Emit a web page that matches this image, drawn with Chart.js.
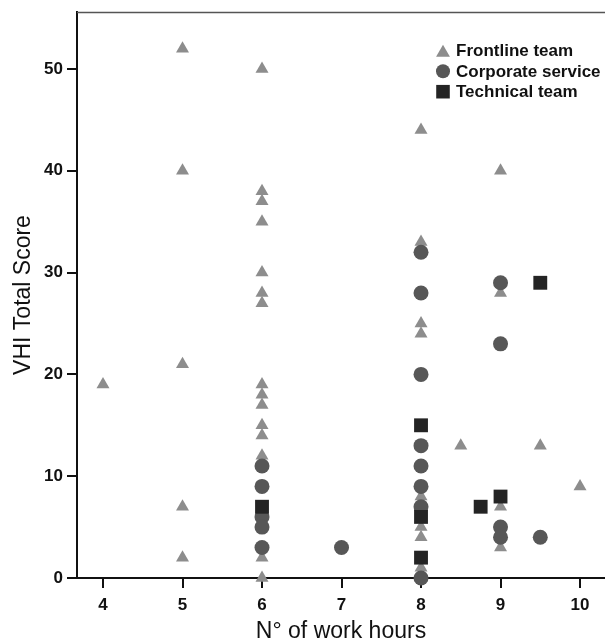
<!DOCTYPE html>
<html><head><meta charset="utf-8">
<script src="https://cdn.jsdelivr.net/npm/chart.js@4"></script>
<style>html,body{margin:0;padding:0;background:#fff;overflow:hidden}canvas{display:block}</style>
</head><body>
<canvas id="c" width="605" height="642"></canvas>
<script>
// ---- data ----
const seriesNames = ['Frontline team', 'Corporate service', 'Technical team'];

const frontlineHours  = [4, 5,5,5,5,5, 6,6,6,6,6,6,6,6,6,6,6,6,6,6,6, 8,8,8,8,8,8,8,8,8, 8.5, 9,9,9,9, 9.5, 10];
const frontlineScores = [19, 52,40,21,7,2, 50,38,37,35,30,28,27,19,18,17,15,14,12,2,0, 44,33,25,24,8,5,4,1,0, 13, 40,28,7,3, 13, 9];

const corporateHours  = [6,6,6,6,6, 7, 8,8,8,8,8,8,8,8, 9,9,9,9, 9.5];
const corporateScores = [11,9,6,5,3, 3, 32,28,20,13,11,9,7,0, 29,23,5,4, 4];

const technicalHours  = [6, 8,8,8, 8.75, 9, 9.5];
const technicalScores = [7, 15,6,2, 7, 8, 29];

const xTicks = [4,5,6,7,8,9,10];
const yTicks = [0,10,20,30,40,50];

const xTitle = 'N° of work hours';
const yTitle = 'VHI Total Score';

// ---- build ----
const pts = (h, s) => h.map((v, i) => ({x: v, y: s[i]}));
const FONT = '"Liberation Sans", Arial, sans-serif';

const styles = [
  {color: '#8d8d8d', pointStyle: 'triangle', radius: 7.5, order: 3, legendR: 8},
  {color: '#575757', pointStyle: 'circle',   radius: 7.5, order: 2, legendR: 7},
  {color: '#242424', pointStyle: 'rect',     radius: 9.8, order: 1, legendR: 9.6}
];
const seriesData = [pts(frontlineHours, frontlineScores), pts(corporateHours, corporateScores), pts(technicalHours, technicalScores)];

const datasets = seriesNames.map((name, i) => ({
  label: name,
  data: seriesData[i],
  pointStyle: styles[i].pointStyle,
  pointRadius: styles[i].radius,
  backgroundColor: styles[i].color,
  borderColor: styles[i].color,
  borderWidth: 0,
  order: styles[i].order,
  showLine: false,
  clip: false
}));

const framePlugin = {
  id: 'frame',
  afterDraw(chart) {
    const {ctx, chartArea: a} = chart;
    ctx.save();
    ctx.strokeStyle = '#555';
    ctx.lineWidth = 1.5;
    ctx.beginPath();
    ctx.moveTo(a.left, a.top + 0.5);
    ctx.lineTo(a.right, a.top + 0.5);
    ctx.stroke();
    ctx.restore();
  }
};

const legendPlugin = {
  id: 'innerLegend',
  afterDraw(chart) {
    const {ctx} = chart;
    const x0 = 443, y0 = 50.7, step = 20.5;
    ctx.save();
    chart.data.datasets.forEach((ds, i) => {
      const y = y0 + i * step;
      ctx.fillStyle = ds.backgroundColor;
      ctx.strokeStyle = ds.borderColor;
      const r = styles[i].legendR;
      Chart.helpers.drawPoint(ctx, {pointStyle: ds.pointStyle, radius: r, rotation: 0, borderWidth: 0}, x0, ds.pointStyle === 'triangle' ? y + 2 : y);
      ctx.fillStyle = '#111';
      ctx.font = 'bold 17px ' + FONT;
      ctx.textBaseline = 'middle';
      ctx.textAlign = 'left';
      ctx.fillText(ds.label, x0 + 13, y + 1);
    });
    ctx.restore();
  }
};

new Chart(document.getElementById('c'), {
  type: 'scatter',
  data: {datasets},
  plugins: [framePlugin, legendPlugin],
  options: {
    responsive: false,
    animation: false,
    events: [],
    layout: {autoPadding: false, padding: {top: 12, right: 0, bottom: 0, left: 0}},
    plugins: {legend: {display: false}, tooltip: {enabled: false}},
    scales: {
      x: {
        type: 'linear', min: 3.673, max: 10.314,
        afterBuildTicks: s => { s.ticks = xTicks.map(v => ({value: v})); },
        afterFit: s => { s.height = 64; s.paddingRight = 0; s.paddingLeft = 0; },
        grid: {drawOnChartArea: false, drawTicks: true, tickLength: 10, color: '#111', lineWidth: 2},
        border: {display: true, color: '#111', width: 2},
        ticks: {color: '#111', font: {family: FONT, size: 17, weight: 'bold'}, padding: 7, maxRotation: 0, autoSkip: false},
        title: {display: true, text: xTitle, color: '#111', font: {family: FONT, size: 23}, padding: {top: 0, bottom: -3}}
      },
      y: {
        type: 'linear', min: 0, max: 55.6,
        afterBuildTicks: s => { s.ticks = yTicks.map(v => ({value: v})); },
        afterFit: s => { s.width = 77; s.paddingTop = 0; s.paddingBottom = 0; },
        grid: {drawOnChartArea: false, drawTicks: true, tickLength: 10, color: '#111', lineWidth: 2},
        border: {display: true, color: '#111', width: 2},
        ticks: {color: '#111', font: {family: FONT, size: 17, weight: 'bold'}, padding: 4, autoSkip: false},
        title: {display: true, text: yTitle, color: '#111', font: {family: FONT, size: 23}, padding: {top: 10, bottom: 0}}
      }
    }
  }
});
</script>
</body></html>
